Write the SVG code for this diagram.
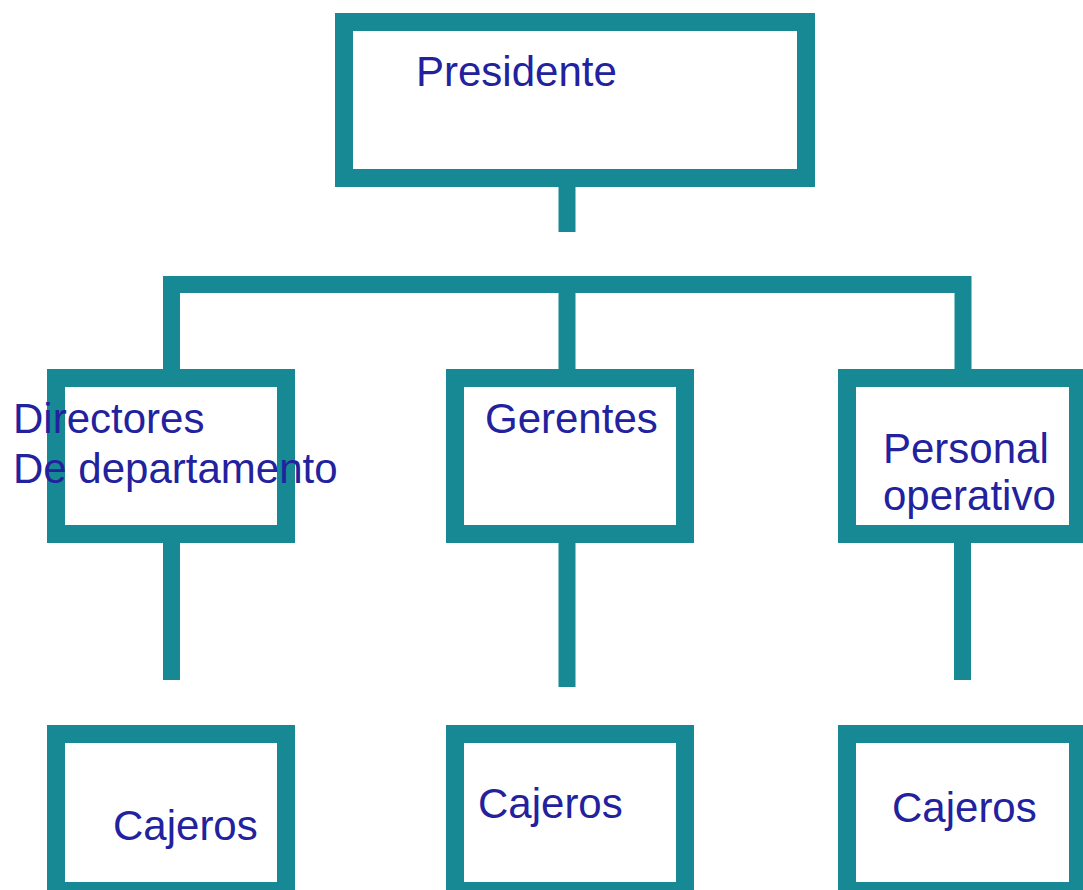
<svg xmlns="http://www.w3.org/2000/svg" width="1083" height="890" viewBox="0 0 1083 890">
  <style>
    .box { fill: #ffffff; stroke: #168994; stroke-width: 18; }
    .conn { fill: none; stroke: #168994; stroke-width: 17; stroke-linejoin: miter; stroke-linecap: butt; }
    .lbl { font-family: "Liberation Sans", Arial, sans-serif; font-size: 42px; fill: #22229e; }
  </style>
  <rect x="0" y="0" width="1083" height="890" fill="#ffffff"/>
  <g id="connectors">
    <path class="conn" d="M567,187 V232"/>
    <path class="conn" d="M171.5,369 V284.5 H963 V369"/>
    <path class="conn" d="M567,284.5 V369"/>
    <path class="conn" d="M171.5,543 V680"/>
    <path class="conn" d="M567,543 V687"/>
    <path class="conn" d="M962.5,543 V680"/>
  </g>
  <g id="presidente">
    <rect class="box" x="344" y="22" width="462" height="156"/>
    <text class="lbl" x="416" y="86">Presidente</text>
  </g>
  <g id="directores">
    <rect class="box" x="56" y="378" width="230" height="156"/>
    <text class="lbl" x="13" y="433">Directores</text>
    <text class="lbl" x="13" y="483">De departamento</text>
  </g>
  <g id="gerentes">
    <rect class="box" x="455" y="378" width="230" height="156"/>
    <text class="lbl" x="485" y="433">Gerentes</text>
  </g>
  <g id="personal">
    <rect class="box" x="847" y="378" width="231" height="156"/>
    <text class="lbl" x="883" y="463">Personal</text>
    <text class="lbl" x="883" y="510">operativo</text>
  </g>
  <g id="cajeros1">
    <rect class="box" x="56" y="734" width="230" height="157"/>
    <text class="lbl" x="113" y="840">Cajeros</text>
  </g>
  <g id="cajeros2">
    <rect class="box" x="455" y="734" width="230" height="157"/>
    <text class="lbl" x="478" y="818">Cajeros</text>
  </g>
  <g id="cajeros3">
    <rect class="box" x="847" y="734" width="231" height="157"/>
    <text class="lbl" x="892" y="822">Cajeros</text>
  </g>
</svg>
